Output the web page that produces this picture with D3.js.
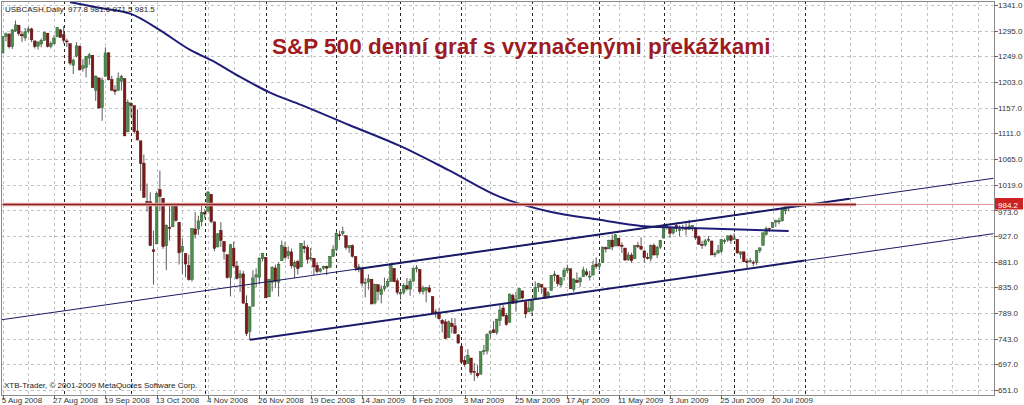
<!DOCTYPE html>
<html><head><meta charset="utf-8">
<script src="https://cdn.jsdelivr.net/npm/d3@7"></script>
<style>
html,body{margin:0;padding:0;background:#fff;overflow:hidden}
svg{display:block}
text{font-family:"Liberation Sans",Arial,sans-serif}
</style></head>
<body>
<svg id="chart" width="1024" height="405"></svg>
<script>
// ---------------- DATA ----------------
const dates = [
"2008-08-05","2008-08-06","2008-08-07","2008-08-08","2008-08-11","2008-08-12","2008-08-13","2008-08-14","2008-08-15","2008-08-18","2008-08-19","2008-08-20","2008-08-21","2008-08-22","2008-08-25","2008-08-26","2008-08-27","2008-08-28","2008-08-29",
"2008-09-02","2008-09-03","2008-09-04","2008-09-05","2008-09-08","2008-09-09","2008-09-10","2008-09-11","2008-09-12","2008-09-15","2008-09-16","2008-09-17","2008-09-18","2008-09-19","2008-09-22","2008-09-23","2008-09-24","2008-09-25","2008-09-26","2008-09-29","2008-09-30",
"2008-10-01","2008-10-02","2008-10-03","2008-10-06","2008-10-07","2008-10-08","2008-10-09","2008-10-10","2008-10-13","2008-10-14","2008-10-15","2008-10-16","2008-10-17","2008-10-20","2008-10-21","2008-10-22","2008-10-23","2008-10-24","2008-10-27","2008-10-28","2008-10-29","2008-10-30","2008-10-31",
"2008-11-03","2008-11-04","2008-11-05","2008-11-06","2008-11-07","2008-11-10","2008-11-11","2008-11-12","2008-11-13","2008-11-14","2008-11-17","2008-11-18","2008-11-19","2008-11-20","2008-11-21","2008-11-24","2008-11-25","2008-11-26","2008-11-28",
"2008-12-01","2008-12-02","2008-12-03","2008-12-04","2008-12-05","2008-12-08","2008-12-09","2008-12-10","2008-12-11","2008-12-12","2008-12-15","2008-12-16","2008-12-17","2008-12-18","2008-12-19","2008-12-22","2008-12-23","2008-12-24","2008-12-26","2008-12-29","2008-12-30","2008-12-31",
"2009-01-02","2009-01-05","2009-01-06","2009-01-07","2009-01-08","2009-01-09","2009-01-12","2009-01-13","2009-01-14","2009-01-15","2009-01-16","2009-01-20","2009-01-21","2009-01-22","2009-01-23","2009-01-26","2009-01-27","2009-01-28","2009-01-29","2009-01-30",
"2009-02-02","2009-02-03","2009-02-04","2009-02-05","2009-02-06","2009-02-09","2009-02-10","2009-02-11","2009-02-12","2009-02-13","2009-02-17","2009-02-18","2009-02-19","2009-02-20","2009-02-23","2009-02-24","2009-02-25","2009-02-26","2009-02-27",
"2009-03-02","2009-03-03","2009-03-04","2009-03-05","2009-03-06","2009-03-09","2009-03-10","2009-03-11","2009-03-12","2009-03-13","2009-03-16","2009-03-17","2009-03-18","2009-03-19","2009-03-20","2009-03-23","2009-03-24","2009-03-25","2009-03-26","2009-03-27","2009-03-30","2009-03-31",
"2009-04-01","2009-04-02","2009-04-03","2009-04-06","2009-04-07","2009-04-08","2009-04-09","2009-04-13","2009-04-14","2009-04-15","2009-04-16","2009-04-17","2009-04-20","2009-04-21","2009-04-22","2009-04-23","2009-04-24","2009-04-27","2009-04-28","2009-04-29","2009-04-30",
"2009-05-01","2009-05-04","2009-05-05","2009-05-06","2009-05-07","2009-05-08","2009-05-11","2009-05-12","2009-05-13","2009-05-14","2009-05-15","2009-05-18","2009-05-19","2009-05-20","2009-05-21","2009-05-22","2009-05-26","2009-05-27","2009-05-28","2009-05-29",
"2009-06-01","2009-06-02","2009-06-03","2009-06-04","2009-06-05","2009-06-08","2009-06-09","2009-06-10","2009-06-11","2009-06-12","2009-06-15","2009-06-16","2009-06-17","2009-06-18","2009-06-19","2009-06-22","2009-06-23","2009-06-24","2009-06-25","2009-06-26","2009-06-29","2009-06-30",
"2009-07-01","2009-07-02","2009-07-06","2009-07-07","2009-07-08","2009-07-09","2009-07-10","2009-07-13","2009-07-14","2009-07-15","2009-07-16","2009-07-17","2009-07-20","2009-07-21","2009-07-22","2009-07-23","2009-07-24","2009-07-27"
];

const open = [
1254.9,1284.9,1289.2,1266.3,1294.4,1304.8,1288.6,1282.1,1293.9,1298.1,1276.7,1267.3,1271.1,1277.6,1290.5,1267.0,1271.3,1283.8,1296.5,
1287.8,1276.6,1271.8,1233.2,1249.5,1267.0,1227.5,1229.0,1245.9,1250.9,1188.3,1210.3,1157.1,1213.1,1255.4,1207.6,1188.8,1187.9,1204.5,1209.1,1113.8,
1164.2,1160.6,1115.2,1097.6,1057.6,988.9,988.4,902.3,912.8,1010.0,994.6,909.5,942.3,943.5,980.4,951.7,899.1,895.2,874.3,848.9,939.5,939.4,953.1,
968.7,971.3,1001.8,952.4,907.4,936.8,917.2,893.4,853.1,904.4,873.2,852.3,859.0,805.9,755.8,801.2,853.4,852.9,886.9,
888.6,817.9,843.6,869.8,844.4,882.7,906.5,892.2,898.4,871.8,881.1,871.5,908.2,906.0,887.0,887.2,874.3,863.9,869.5,872.4,870.6,890.6,
903.0,929.2,931.2,927.5,905.7,909.9,890.4,869.8,867.3,842.0,844.5,849.6,806.8,839.7,822.2,832.5,837.3,845.7,868.9,846.7,
823.1,825.7,837.8,831.8,846.1,868.2,866.9,827.4,829.9,834.0,818.6,791.1,787.9,775.9,773.3,744.7,770.6,765.8,749.9,
729.6,704.4,698.6,708.3,684.0,680.8,679.3,719.6,720.9,752.0,758.8,753.9,776.0,797.9,784.6,772.3,820.6,806.8,814.1,828.7,809.1,790.9,
793.6,814.5,835.1,839.8,834.1,816.8,829.3,855.7,856.9,839.4,854.5,865.2,868.3,831.3,847.3,844.6,853.9,862.8,854.5,856.9,876.6,
872.7,879.2,906.1,903.9,919.6,909.0,923.0,910.5,905.4,884.2,892.8,886.1,909.7,908.6,900.4,888.7,887.0,910.0,893.0,907.0,
923.3,942.9,942.5,932.5,945.7,938.1,940.4,942.7,939.0,943.4,942.5,925.6,911.9,910.9,920.0,918.1,893.5,896.3,899.5,918.8,919.9,927.2,
920.8,921.2,894.3,898.6,881.9,881.3,880.0,879.6,900.8,910.2,930.2,940.6,942.1,952.0,953.4,954.1,972.2,977.8
];
const high = [
1284.9,1291.7,1289.2,1297.9,1313.2,1304.8,1294.0,1300.1,1302.1,1300.2,1276.7,1276.0,1281.1,1293.1,1290.5,1275.7,1287.0,1300.7,1297.6,
1303.0,1280.6,1271.8,1244.9,1274.4,1268.7,1243.9,1249.1,1255.1,1250.9,1214.8,1210.3,1211.1,1265.1,1255.4,1214.0,1197.4,1220.0,1215.8,1209.1,1171.6,
1167.0,1160.6,1153.8,1097.6,1072.9,1021.1,1005.3,936.4,1006.9,1044.3,994.6,947.7,984.6,985.4,985.4,951.7,922.8,896.3,893.8,940.5,970.0,963.2,984.4,
975.2,1007.5,1001.8,952.4,931.5,952.0,917.2,893.4,913.0,916.9,882.3,865.9,864.6,820.5,801.2,865.6,868.9,887.7,896.3,
888.6,850.5,873.1,875.6,879.4,918.6,916.3,908.3,904.6,883.2,884.6,914.7,918.9,911.0,905.5,887.4,880.4,869.8,873.7,873.7,891.1,910.3,
934.7,936.6,943.9,927.5,910.0,911.9,890.4,877.0,867.3,851.6,858.1,849.6,841.7,839.7,838.6,852.5,850.5,877.9,868.9,851.7,
830.8,842.6,851.9,850.6,870.8,875.0,868.1,838.2,835.5,839.4,818.6,796.2,797.6,778.7,777.9,775.5,780.1,779.4,751.3,
729.6,711.7,724.1,708.3,699.1,695.3,719.6,731.9,752.6,758.3,774.5,778.1,803.0,803.2,788.9,823.4,823.7,826.8,833.0,828.7,809.1,810.5,
813.6,845.6,842.5,839.8,834.1,828.4,856.9,864.3,856.9,852.9,870.4,875.6,868.3,850.1,861.8,852.9,871.8,868.8,864.5,882.1,888.7,
880.5,907.9,907.7,920.3,929.6,930.2,923.0,915.6,905.4,898.4,897.0,910.0,916.4,924.6,900.4,896.7,911.8,913.8,909.5,920.0,
947.8,949.4,942.5,942.5,951.7,946.3,946.9,949.8,956.2,946.3,942.5,928.0,918.4,921.9,927.1,918.1,898.7,910.9,921.4,922.0,928.0,930.0,
931.9,921.2,898.7,898.6,886.8,887.9,883.6,901.1,905.8,933.0,944.0,941.9,951.6,956.5,959.8,979.4,979.8,981.6
];
const low = [
1254.7,1276.0,1263.0,1262.1,1292.8,1285.6,1274.9,1276.8,1290.7,1274.5,1263.1,1261.2,1265.2,1277.6,1264.9,1263.2,1270.6,1283.8,1282.7,
1272.2,1265.6,1232.8,1217.2,1247.1,1224.5,1221.6,1211.5,1233.8,1192.7,1169.3,1155.9,1133.5,1213.1,1205.6,1187.8,1179.8,1187.9,1187.5,1106.4,1113.8,
1140.8,1111.4,1098.1,1007.9,996.2,971.0,909.2,839.8,912.8,972.1,904.0,865.8,918.7,943.5,952.5,875.8,858.4,852.9,846.8,845.3,922.3,928.9,944.6,
958.6,971.3,949.9,899.7,906.9,907.5,884.9,850.5,818.7,869.9,849.0,826.8,806.2,747.8,741.0,801.2,835.0,841.4,881.2,
815.7,817.9,827.6,833.6,818.4,882.7,885.4,885.5,868.7,851.4,857.7,871.5,895.9,877.4,883.0,857.1,860.1,861.4,866.5,857.1,870.6,889.6,
899.4,919.5,927.3,902.4,896.8,888.3,864.3,862.0,836.9,817.0,830.7,804.5,804.3,811.3,806.1,827.7,835.4,845.7,844.2,821.8,
812.9,822.0,829.2,819.9,845.4,861.7,823.0,822.1,808.1,825.2,789.2,780.7,777.0,754.3,742.4,744.7,752.9,751.8,734.5,
699.7,692.3,698.6,677.9,666.8,672.9,679.3,713.9,714.8,742.5,753.4,749.9,765.6,781.8,766.2,772.3,805.5,791.4,814.1,813.4,779.8,790.9,
783.3,814.5,826.7,822.8,814.5,814.8,829.3,845.4,836.5,835.6,847.0,860.9,832.4,826.8,843.6,835.6,853.9,854.7,847.1,856.9,868.5,
866.1,879.2,897.3,903.9,901.4,909.0,908.7,896.5,882.5,882.5,878.9,886.1,905.2,901.4,879.6,884.8,881.5,891.9,887.6,903.6,
923.3,938.5,923.9,929.3,934.1,926.4,936.2,928.0,939.0,935.7,919.7,911.6,903.8,907.9,915.8,893.0,888.9,896.3,896.3,913.0,916.2,912.9,
920.8,896.4,886.4,879.9,869.3,878.5,872.8,875.3,896.5,910.2,927.5,934.9,941.0,943.2,947.9,953.3,966.0,971.5
];
const close = [
1284.9,1289.2,1266.1,1296.3,1305.3,1289.6,1285.8,1292.9,1298.2,1278.6,1266.7,1274.5,1277.7,1292.2,1266.8,1271.5,1281.7,1300.7,1282.8,
1277.6,1275.0,1236.8,1242.3,1267.8,1224.5,1232.0,1249.1,1251.7,1192.7,1213.6,1156.4,1206.5,1255.1,1207.1,1188.2,1185.9,1209.2,1213.3,1106.4,1166.4,
1161.1,1114.3,1099.2,1056.9,996.2,984.9,909.9,899.2,1003.4,998.0,907.8,946.4,940.6,985.4,955.1,896.8,908.1,876.8,848.9,940.5,930.1,954.1,968.8,
966.3,1005.8,952.8,904.9,931.0,919.2,899.0,852.3,911.3,873.3,850.8,859.1,806.6,752.4,800.0,851.8,857.4,887.7,896.2,
816.2,848.8,870.7,845.2,876.1,909.7,888.7,899.2,873.6,879.7,868.6,913.2,904.4,885.3,887.9,871.6,863.2,868.2,872.8,869.4,890.6,903.3,
931.8,927.5,934.7,906.7,909.7,890.4,870.3,871.8,842.6,843.7,850.1,805.2,840.2,827.5,832.0,836.6,845.7,874.1,845.1,825.9,
825.4,838.5,832.2,845.9,868.6,869.9,827.2,833.7,835.2,826.8,789.2,788.4,778.9,770.1,743.3,773.1,764.9,752.8,735.1,
700.8,696.3,712.9,682.6,683.4,676.5,719.6,721.4,750.7,756.6,753.9,778.1,794.4,784.0,768.5,822.9,806.1,813.9,832.9,815.9,787.5,797.9,
811.1,834.4,842.5,835.5,815.6,825.2,856.6,858.7,841.5,852.1,865.3,869.6,832.4,850.1,843.6,851.9,866.2,857.5,855.2,873.6,872.8,
877.5,907.2,903.8,919.5,907.4,929.2,909.2,908.4,883.9,893.1,882.9,909.7,908.1,903.5,888.3,887.0,910.3,893.1,906.8,919.1,
942.9,944.7,931.8,942.5,940.1,939.1,942.4,939.2,944.9,946.2,923.7,912.0,910.7,918.4,921.2,893.0,895.1,900.9,920.3,918.9,927.2,919.3,
923.3,896.4,898.7,881.0,879.6,882.7,879.1,901.1,905.8,932.7,940.7,940.4,951.1,954.6,954.1,976.3,979.3,981.5
];

// moving average: [bar index, value]
const maIndex = [21, 30, 40, 49, 58, 65, 74, 83, 93, 108, 124, 139, 155, 171, 186, 199, 217, 245];
const maValue = [1346, 1336, 1325, 1296, 1262, 1242, 1212, 1185, 1162, 1126, 1088, 1045, 997, 970, 956, 945, 941, 936];

// price axis ticks
const priceTicks = [1341, 1295, 1249, 1203, 1157, 1111, 1065, 1019, 973, 927, 881, 835, 789, 743, 697, 651];
// time axis labels
const timeTickDates = ["2008-08-05","2008-08-27","2008-09-19","2008-10-13","2008-11-04","2008-11-26","2008-12-19","2009-01-14","2009-02-06","2009-03-03","2009-03-25","2009-04-17","2009-05-11","2009-06-03","2009-06-25","2009-07-20"];
const timeTickLabels = ["5 Aug 2008","27 Aug 2008","19 Sep 2008","13 Oct 2008","4 Nov 2008","26 Nov 2008","19 Dec 2008","14 Jan 2009","6 Feb 2009","3 Mar 2009","25 Mar 2009","17 Apr 2009","11 May 2009","3 Jun 2009","25 Jun 2009","20 Jul 2009"];
// month separators (first trading day of month); last one is in the future (bar 250)
const separatorDates = ["2008-09-02","2008-10-01","2008-11-03","2008-12-01","2009-01-02","2009-02-02","2009-03-02","2009-04-01","2009-05-01","2009-06-01","2009-07-01"];
const futureSeparatorBar = 250;

// drawn objects: [bar index, price]
const upperRay   = [[-1, 776.4], [309, 1030.6]];
const upperTrend = [[110, 867.4], [264, 993.7]];
const lowerTrend = [[77, 741.0], [250, 882.9]];
const lowerRay   = [[250, 882.9], [309, 931.3]];
const resistance = 984.2;
const resistanceEndBar = 266;

const header = "USBCASH,Daily";
const headerValues = "977.8 981.6 971.5 981.5";
const title = "S&P 500 denní graf s vyznačenými překážkami";
const copyright = "XTB-Trader, © 2001-2009 MetaQuotes Software Corp.";

// ---------------- DRAW ----------------
const svg = d3.select("#chart");
const plotL = 1, plotR = 994, plotT = 1, plotB = 395;
const FS = 8;
const x = d3.scaleLinear().domain([0, 309]).range([2.7, 2.7 + 309 * 3.208]);
const y = d3.scaleLinear().domain([651, 1341]).range([390, 5]);

svg.append("defs").append("clipPath").attr("id", "plotclip").append("rect")
  .attr("x", plotL + 0.5).attr("y", plotT + 0.5).attr("width", plotR - plotL - 1).attr("height", plotB - plotT - 1);

const plot = svg.append("g").attr("clip-path", "url(#plotclip)");

// horizontal grid
plot.append("g").selectAll("line").data(priceTicks).join("line")
  .attr("x1", plotL).attr("x2", plotR)
  .attr("y1", d => Math.round(y(d)) + 0.5).attr("y2", d => Math.round(y(d)) + 0.5)
  .attr("stroke", "#c4c4c4").attr("stroke-width", 1).attr("stroke-dasharray", "3,3");

// vertical grid every 8 bars
const vgrid = d3.range(0, 310, 8);
plot.append("g").selectAll("line").data(vgrid).join("line")
  .attr("x1", d => Math.round(x(d)) + 0.5).attr("x2", d => Math.round(x(d)) + 0.5)
  .attr("y1", plotT).attr("y2", plotB)
  .attr("stroke", "#c4c4c4").attr("stroke-width", 1).attr("stroke-dasharray", "3,3");

// month separators
const sepIdx = separatorDates.map(d => dates.indexOf(d)).concat([futureSeparatorBar]);
plot.append("g").selectAll("line").data(sepIdx).join("line")
  .attr("x1", d => Math.round(x(d)) + 0.5).attr("x2", d => Math.round(x(d)) + 0.5)
  .attr("y1", plotT).attr("y2", plotB)
  .attr("stroke", "#222").attr("stroke-width", 1).attr("stroke-dasharray", "3,3");

// candles
const bars = dates.map((d, i) => ({ i, o: open[i], h: high[i], l: low[i], c: close[i] }));
const cg = plot.append("g");
cg.selectAll("line").data(bars).join("line")
  .attr("x1", d => x(d.i)).attr("x2", d => x(d.i))
  .attr("y1", d => y(d.h)).attr("y2", d => y(d.l))
  .attr("stroke", "#5a5a5a").attr("stroke-width", 1);
cg.selectAll("rect").data(bars).join("rect")
  .attr("x", d => x(d.i) - 1.3).attr("width", 2.6)
  .attr("y", d => y(Math.max(d.o, d.c)))
  .attr("height", d => Math.max(1, Math.abs(y(d.o) - y(d.c))))
  .attr("fill", d => d.c >= d.o ? "#4f8d4f" : "#7a1a1a")
  .attr("stroke", d => d.c >= d.o ? "#2f5a2f" : "#5a1010").attr("stroke-width", 0.5);

// moving average
const ma = maIndex.map((v, k) => [v, maValue[k]]);
plot.append("path").datum(ma)
  .attr("d", d3.line().x(d => x(d[0])).y(d => y(d[1])).curve(d3.curveMonotoneX))
  .attr("fill", "none").attr("stroke", "#1e1e78").attr("stroke-width", 2);

// trend lines
const lineGen = d3.line().x(d => x(d[0])).y(d => y(d[1]));
plot.append("path").datum(upperRay).attr("d", lineGen)
  .attr("fill", "none").attr("stroke", "#1a1a66").attr("stroke-width", 1);
plot.append("path").datum(lowerRay).attr("d", lineGen)
  .attr("fill", "none").attr("stroke", "#1a1a66").attr("stroke-width", 1);
plot.append("path").datum(upperTrend).attr("d", lineGen)
  .attr("fill", "none").attr("stroke", "#1a1a66").attr("stroke-width", 2);
plot.append("path").datum(lowerTrend).attr("d", lineGen)
  .attr("fill", "none").attr("stroke", "#1a1a66").attr("stroke-width", 2);

// resistance line
const ry = Math.round(y(resistance)) + 0.5;
plot.append("line").attr("x1", plotL).attr("x2", plotR).attr("y1", ry).attr("y2", ry)
  .attr("stroke", "#e49a9a").attr("stroke-width", 1);
plot.append("line").attr("x1", x(0)).attr("x2", x(resistanceEndBar)).attr("y1", ry).attr("y2", ry)
  .attr("stroke", "#e8b0b0").attr("stroke-width", 3.5);
plot.append("line").attr("x1", x(0)).attr("x2", x(resistanceEndBar)).attr("y1", ry).attr("y2", ry)
  .attr("stroke", "#8a1f1f").attr("stroke-width", 1.6);

// frame
svg.append("rect").attr("x", plotL + 0.5).attr("y", plotT + 0.5)
  .attr("width", plotR - plotL).attr("height", plotB - plotT)
  .attr("fill", "none").attr("stroke", "#8a8a8a").attr("stroke-width", 1);

// price axis
const ax = svg.append("g");
ax.selectAll("line").data(priceTicks).join("line")
  .attr("x1", plotR).attr("x2", plotR + 4)
  .attr("y1", d => Math.round(y(d)) + 0.5).attr("y2", d => Math.round(y(d)) + 0.5)
  .attr("stroke", "#666");
ax.selectAll("text").data(priceTicks.filter(d => d !== 973)).join("text")
  .attr("x", plotR + 4).attr("y", d => y(d) + 3)
  .attr("font-size", FS).attr("fill", "#333")
  .text(d => d3.format(".1f")(d));
// the 973.0 label sits partly under the price box, as in the reference
ax.append("text").attr("x", plotR + 4).attr("y", y(973) + 4.5)
  .attr("font-size", FS).attr("fill", "#333").text(d3.format(".1f")(973));

// price box for the resistance value
svg.append("rect").attr("x", plotR + 1).attr("y", ry - 6.5).attr("width", 28).attr("height", 11.5)
  .attr("fill", "#cc2222");
svg.append("text").attr("x", plotR + 4).attr("y", ry + 3)
  .attr("font-size", FS).attr("fill", "#fff").text(d3.format(".1f")(resistance));

// time axis
const tIdx = timeTickDates.map(d => dates.indexOf(d));
const tx = svg.append("g");
tx.selectAll("line").data(tIdx).join("line")
  .attr("x1", d => Math.round(x(d)) + 0.5).attr("x2", d => Math.round(x(d)) + 0.5)
  .attr("y1", plotB).attr("y2", plotB + 4).attr("stroke", "#666");
tx.selectAll("text").data(tIdx).join("text")
  .attr("x", d => x(d) - 1).attr("y", 403)
  .attr("font-size", FS).attr("fill", "#333")
  .text((d, k) => timeTickLabels[k]);

// header & footer texts
svg.append("text").attr("x", 5).attr("y", 12).attr("font-size", FS).attr("fill", "#222").text(header);
svg.append("text").attr("x", 68).attr("y", 12).attr("font-size", FS).attr("fill", "#222").text(headerValues);
svg.append("text").attr("x", 4).attr("y", 388).attr("font-size", FS).attr("fill", "#222").text(copyright);

// title
svg.append("text").attr("x", 272).attr("y", 54)
  .attr("font-size", 22.5).attr("font-weight", "bold").attr("fill", "#9e1b22")
  .text(title);
</script>
</body></html>
